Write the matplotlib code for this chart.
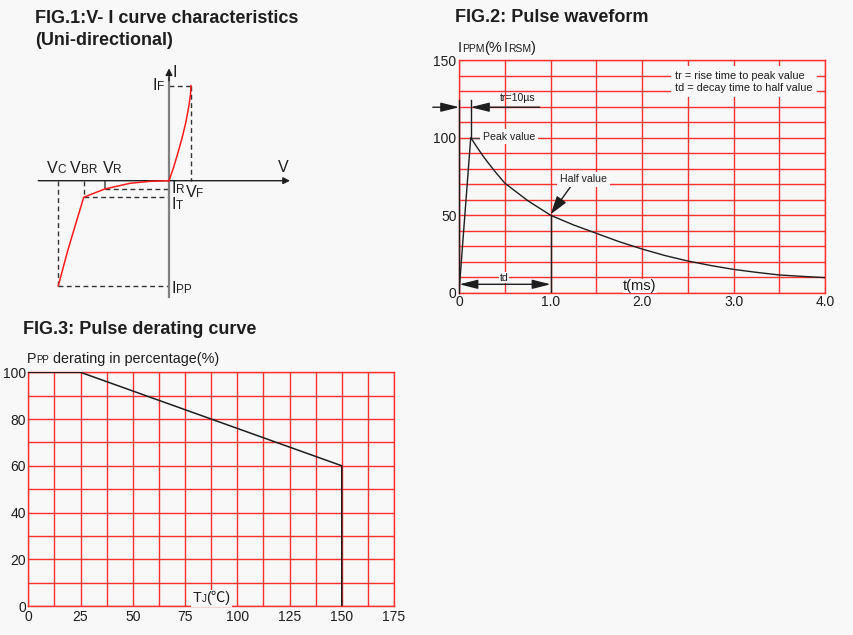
import matplotlib
matplotlib.use("Agg")
import matplotlib.pyplot as plt
import matplotlib.transforms as mtransforms
from matplotlib.patches import Rectangle
import numpy as np

plt.rcParams['font.family'] = ['Liberation Sans', 'Noto Sans CJK SC', 'DejaVu Sans']

BG = "#f8f8f8"
GRID = "#ff3030"
INK = "#1e1e1e"

# FIG.1 schematic points (arbitrary V / I units)
V_C, V_BR, V_R, V_F = -11.07, -8.53, -6.43, 2.2
I_F, I_R, I_T, I_PP = 9.5, -0.83, -1.66, -10.5
fwd_v = [0, 0.43, 0.83, 1.3, 1.7, 2.0, 2.15, 2.2]
fwd_i = [0, 1.24, 2.57, 4.24, 5.9, 7.57, 8.6, 9.5]
rev_v = [V_C, -10.1, V_BR, V_R, -3.9, -1.9, 0]
rev_i = [I_PP, -6.9, I_T, I_R, -0.26, -0.06, 0]

# FIG.2 pulse waveform (t in ms, % of IRSM)
pulse_t = [0, 0.125, 0.175, 0.25, 0.3, 0.4, 0.5, 0.75, 1.0, 1.25, 1.5, 1.75,
           2.0, 2.25, 2.5, 2.75, 3.0, 3.25, 3.5, 3.75, 4.0]
pulse_v = [3, 100, 95.5, 89, 85, 77.5, 70.6, 59.4, 50, 43.8, 38.4, 33.0,
           28.3, 24.1, 20.6, 17.7, 15.2, 13.3, 11.6, 10.7, 9.9]
t_peak = 0.125
t_half = 1.0

# FIG.3 derating curve
tj = [0, 25, 150, 150]
derate = [100, 100, 60, 0]

fig = plt.figure(figsize=(8.54, 6.35), dpi=100, facecolor=BG)
renderer = fig.canvas.get_renderer()


def rich(ax, x, y, parts, pad=None):
    # parts: (text, fontsize[, extra gap px]) drawn on one baseline, side by side
    dx = 0.0
    exts = []
    for p in parts:
        s, fs = p[0], p[1]
        if len(p) > 2:
            dx += p[2]
        tr = mtransforms.offset_copy(ax.transData, fig=fig, x=dx, y=0, units='dots')
        t = ax.text(x, y, s, fontsize=fs, color=INK, transform=tr, va='baseline',
                    ha='left', clip_on=False, zorder=6)
        e = t.get_window_extent(renderer=renderer)
        exts.append(e)
        dx += e.width
    if pad is not None:
        u = mtransforms.Bbox.union(exts)
        ax.add_patch(Rectangle((u.x0 - pad, u.y0 - pad), u.width + 2 * pad,
                               u.height + 2 * pad, transform=mtransforms.IdentityTransform(),
                               facecolor=BG, edgecolor='none', zorder=5, clip_on=False))


# titles
TFS = 13
fig.text(35 / 854, 1 - 18.5 / 635, "FIG.1:V- I curve characteristics", fontsize=TFS,
         fontweight='bold', color=INK, va='center')
fig.text(35 / 854, 1 - 40.5 / 635, "(Uni-directional)", fontsize=TFS,
         fontweight='bold', color=INK, va='center')
fig.text(455 / 854, 1 - 17 / 635, "FIG.2: Pulse waveform", fontsize=TFS,
         fontweight='bold', color=INK, va='center')
fig.text(23 / 854, 1 - 329 / 635, "FIG.3: Pulse derating curve", fontsize=TFS,
         fontweight='bold', color=INK, va='center')

# ---------------- FIG.1 ----------------
ax1 = fig.add_axes([0, 1 - 305 / 635, 310 / 854, 250 / 635])
ax1.set_xlim(-16.9, 14.1)
ax1.set_ylim(-12.43, 12.57)
ax1.axis('off')

dash = dict(color='#333333', lw=1.0, ls=(0, (3.5, 2.5)))
ax1.plot([V_C, V_C], [0, I_PP], **dash)
ax1.plot([V_C, 0], [I_PP, I_PP], **dash)
ax1.plot([V_BR, V_BR], [0, I_T], **dash)
ax1.plot([V_BR, 0], [I_T, I_T], **dash)
ax1.plot([V_R, 0], [I_R, I_R], **dash)
ax1.plot([V_R, V_R], [0, I_R], color='#555555', lw=1.2)
ax1.plot([0, V_F], [I_F, I_F], **dash)
ax1.plot([V_F, V_F], [I_F, 0], **dash)

ax1.plot([0, 0], [-11.6, 10.3], color='#808080', lw=1.6, zorder=3)
ax1.annotate('', xy=(0, 11.24), xytext=(0, 10.0),
             arrowprops=dict(arrowstyle='-|>', color=INK, lw=1, shrinkA=0, shrinkB=0,
                             mutation_scale=10))
ax1.annotate('', xy=(12.1, 0), xytext=(-13.07, 0),
             arrowprops=dict(arrowstyle='-|>', color=INK, lw=1, shrinkA=0, shrinkB=0,
                             mutation_scale=10))

ax1.plot(fwd_v, fwd_i, color='#ff1a1a', lw=1.1, zorder=4)
ax1.plot(rev_v, rev_i, color='#ff1a1a', lw=1.1, zorder=4)

BIG, SMALL = 11.5, 8.5
rich(ax1, 0.4, 10.4, [("I", BIG)])
rich(ax1, 10.9, 0.9, [("V", BIG)])
rich(ax1, -1.63, 9.07, [("I", BIG), ("F", SMALL)])
rich(ax1, -12.23, 0.74, [("V", BIG), ("C", SMALL)])
rich(ax1, -9.9, 0.74, [("V", BIG), ("BR", SMALL)])
rich(ax1, -6.63, 0.74, [("V", BIG), ("R", SMALL)])
rich(ax1, 0.27, -1.26, [("I", BIG), ("R", SMALL)])
rich(ax1, 1.67, -1.6, [("V", BIG), ("F", SMALL)])
rich(ax1, 0.27, -2.86, [("I", BIG), ("T", SMALL)])
rich(ax1, 0.27, -11.26, [("I", BIG), ("PP", SMALL)])

# ---------------- FIG.2 ----------------
ax2 = fig.add_axes([459.3 / 854, 1 - 293 / 635, 365.7 / 854, 233 / 635])
ax2.set_facecolor(BG)
ax2.set_xlim(0, 4)
ax2.set_ylim(0, 150)
ax2.set_xticks([0, 1, 2, 3, 4])
ax2.set_xticklabels(['0', '1.0', '2.0', '3.0', '4.0'])
ax2.set_xticks(np.arange(0, 4.01, 0.5), minor=True)
ax2.set_yticks([0, 50, 100, 150])
ax2.set_yticks(np.arange(0, 151, 10), minor=True)
ax2.grid(which='both', color=GRID, lw=1.0)
ax2.set_axisbelow(True)
ax2.tick_params(which='both', length=0, labelsize=10, colors=INK)
ax2.tick_params(axis='x', pad=1.5)
ax2.tick_params(axis='y', pad=2)
for s in ax2.spines.values():
    s.set_color(GRID)
    s.set_linewidth(1.0)

ax2.plot(pulse_t, pulse_v, color=INK, lw=1.0, zorder=4)
ax2.plot([0, 0], [0, 124], color=INK, lw=1.0, zorder=4, clip_on=False)
ax2.plot([t_peak, t_peak], [100, 124], color=INK, lw=1.0, zorder=4)
ax2.plot([t_half, t_half], [0, 50], color=INK, lw=1.0, zorder=4)
ax2.plot([t_peak, 0.3], [100, 100], color='#444444', lw=1.0, zorder=3)

head = dict(color=INK, lw=1.0, shrinkA=0, shrinkB=0, mutation_scale=14)
ax2.annotate('', xy=(0, 119.6), xytext=(-0.29, 119.6),
             arrowprops=dict(arrowstyle='-|>,head_length=0.8,head_width=0.2', **head),
             annotation_clip=False)
ax2.annotate('', xy=(t_peak, 119.6), xytext=(0.88, 119.6),
             arrowprops=dict(arrowstyle='-|>,head_length=0.8,head_width=0.2', **head),
             annotation_clip=False)
ax2.annotate('', xy=(t_half, 5.6), xytext=(0, 5.6),
             arrowprops=dict(arrowstyle='<|-|>,head_length=0.8,head_width=0.2', **head))
ax2.annotate('', xy=(t_half, 50.7), xytext=(1.23, 69.5),
             arrowprops=dict(arrowstyle='-|>,head_length=0.8,head_width=0.25', **head))

box = dict(facecolor=BG, edgecolor='none', pad=2)
SM = 7.6
ax2.text(0.64, 125.5, "tr=10µs", fontsize=SM, color=INK, ha='center', va='center', zorder=5)
ax2.text(0.545, 100.6, "Peak value", fontsize=SM, color=INK, ha='center', va='center',
         bbox=box, zorder=5)
ax2.text(1.36, 73.2, "Half value", fontsize=SM, color=INK, ha='center', va='center',
         bbox=box, zorder=5)
ax2.text(0.49, 9.9, "td", fontsize=SM, color=INK, ha='center', va='center',
         bbox=dict(facecolor=BG, edgecolor='none', pad=0.5), zorder=5)
ax2.text(2.36, 136, "tr = rise time to peak value\ntd = decay time to half value",
         fontsize=7.9, color=INK, ha='left', va='center', linespacing=1.3,
         bbox=dict(facecolor=BG, edgecolor='none', pad=3), zorder=5)
ax2.text(1.79, 1.9, "t(ms)", fontsize=10.5, color=INK, ha='left', va='baseline',
         bbox=dict(facecolor=BG, edgecolor='none', pad=0.3), zorder=5)
rich(ax2, -0.0175, 155.4, [("I", 10.5), ("PPM", 7.5), ("(%", 10.5), ("I", 10.5, 2),
                           ("RSM", 7.5), (")", 10.5)])

# ---------------- FIG.3 ----------------
ax3 = fig.add_axes([28.3 / 854, 1 - 606 / 635, 365.7 / 854, 233.7 / 635])
ax3.set_facecolor(BG)
ax3.set_xlim(0, 175)
ax3.set_ylim(0, 100)
ax3.set_xticks(np.arange(0, 176, 25))
ax3.set_xticks(np.arange(0, 176, 12.5), minor=True)
ax3.set_yticks(np.arange(0, 101, 20))
ax3.set_yticks(np.arange(0, 101, 10), minor=True)
ax3.grid(which='both', color=GRID, lw=1.0)
ax3.set_axisbelow(True)
ax3.tick_params(which='both', length=0, labelsize=10, colors=INK)
ax3.tick_params(axis='x', pad=3)
ax3.tick_params(axis='y', pad=1.5)
for s in ax3.spines.values():
    s.set_color(GRID)
    s.set_linewidth(1.0)

ax3.plot(tj, derate, color=INK, lw=1.1, zorder=4)
rich(ax3, -0.77, 103.9, [("P", 10.4), ("PP", 7), (" derating in percentage(%)", 10.4)])
rich(ax3, 78.7, 1.5, [("T", 10.4), ("J", 7), ("(℃)", 10.4)], pad=1.5)

fig.savefig("out.png", dpi=100, facecolor=BG)
